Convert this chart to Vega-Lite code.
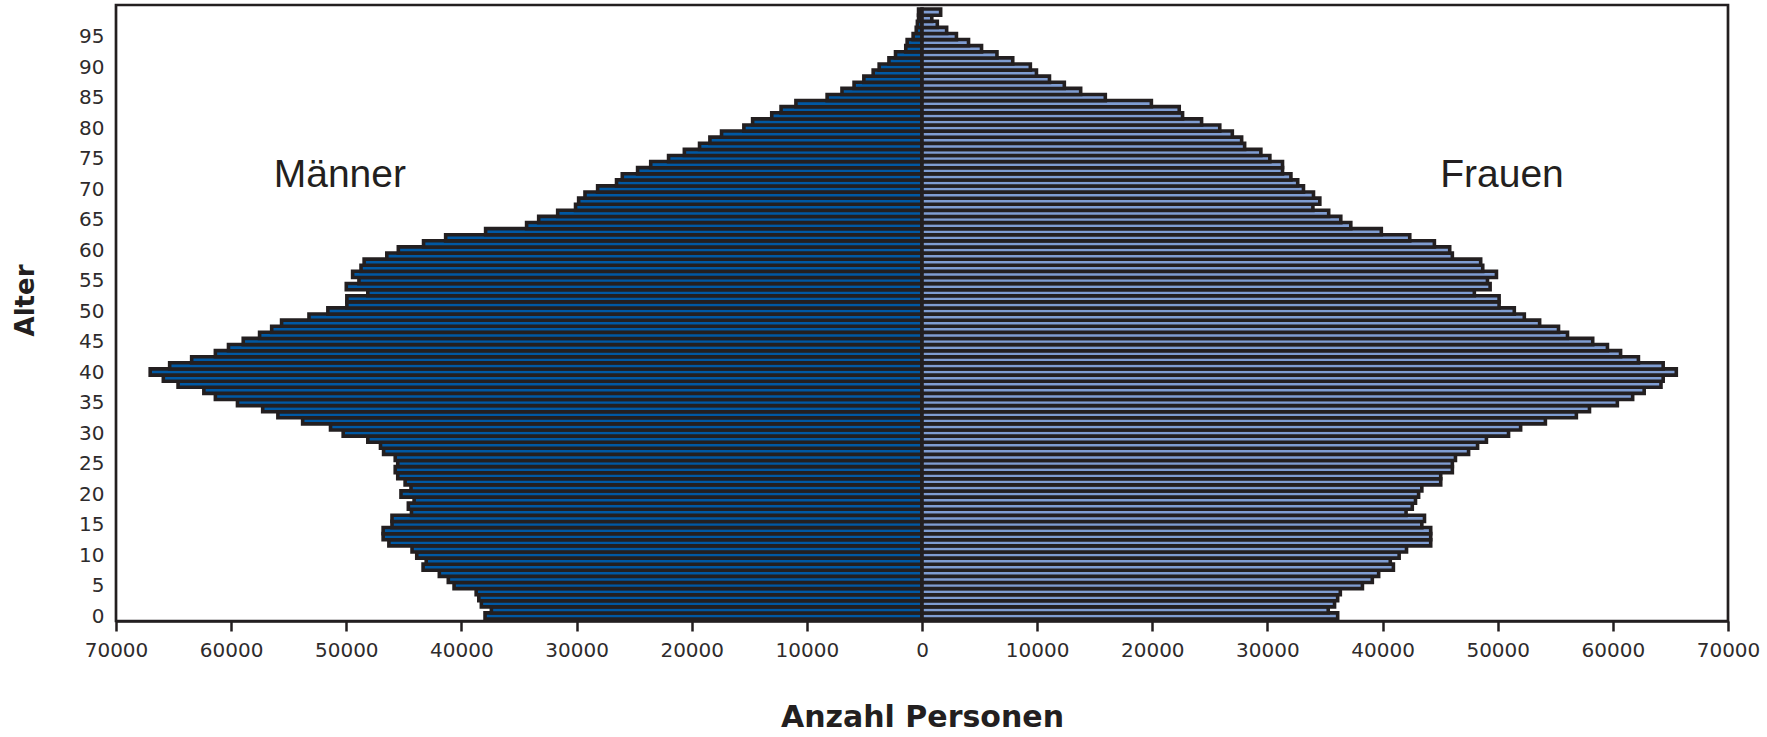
{
  "$schema": "https://vega.github.io/schema/vega-lite/v6.json",
  "description": "Bevölkerungspyramide nach Alter und Geschlecht",
  "autosize": {"type": "none"},
  "padding": {"left": 116, "top": 5, "right": 39, "bottom": 116},
  "width": 1612,
  "height": 616,
  "encoding": {
    "x": {
      "field": "x",
      "type": "quantitative",
      "scale": {"domain": [-70000, 70000], "nice": false},
      "axis": {
        "title": "Anzahl Personen",
        "values": [-70000, -60000, -50000, -40000, -30000, -20000, -10000, 0, 10000, 20000, 30000, 40000, 50000, 60000, 70000],
        "labelExpr": "format(abs(datum.value), 'd')",
        "grid": false,
        "tickSize": 10,
        "tickWidth": 2.5,
        "labelPadding": 9,
        "labelFlush": false,
        "labelOverlap": false,
        "labelBound": false,
        "titleY": 96,
        "titleBaseline": "middle"
      }
    },
    "y": {
      "field": "age",
      "type": "quantitative",
      "scale": {"domain": [0, 99.35], "nice": false},
      "axis": {
        "title": "Alter",
        "values": [0, 5, 10, 15, 20, 25, 30, 35, 40, 45, 50, 55, 60, 65, 70, 75, 80, 85, 90, 95],
        "grid": false,
        "ticks": false,
        "domain": false,
        "labelPadding": 12,
        "titleX": -91,
        "titleY": 295,
        "titleBaseline": "middle",
        "titleFontSize": 26
      }
    }
  },
  "layer": [
    {
      "data": {
        "values": [
          {"age": 0, "Männer": 37950, "Frauen": 36100},
          {"age": 1, "Männer": 37400, "Frauen": 35280},
          {"age": 2, "Männer": 38270, "Frauen": 35830},
          {"age": 3, "Männer": 38490, "Frauen": 36100},
          {"age": 4, "Männer": 38720, "Frauen": 36330},
          {"age": 5, "Männer": 40640, "Frauen": 38250},
          {"age": 6, "Männer": 41140, "Frauen": 39110},
          {"age": 7, "Männer": 41920, "Frauen": 39660},
          {"age": 8, "Männer": 43330, "Frauen": 40940},
          {"age": 9, "Männer": 43060, "Frauen": 40670},
          {"age": 10, "Männer": 43880, "Frauen": 41440},
          {"age": 11, "Männer": 44290, "Frauen": 42080},
          {"age": 12, "Männer": 46300, "Frauen": 44180},
          {"age": 13, "Männer": 46800, "Frauen": 44180},
          {"age": 14, "Männer": 46800, "Frauen": 44180},
          {"age": 15, "Männer": 46030, "Frauen": 43410},
          {"age": 16, "Männer": 46030, "Frauen": 43640},
          {"age": 17, "Männer": 44340, "Frauen": 42040},
          {"age": 18, "Männer": 44610, "Frauen": 42580},
          {"age": 19, "Männer": 44110, "Frauen": 42860},
          {"age": 20, "Männer": 45250, "Frauen": 43130},
          {"age": 21, "Männer": 44380, "Frauen": 43410},
          {"age": 22, "Männer": 44890, "Frauen": 45050},
          {"age": 23, "Männer": 45530, "Frauen": 45050},
          {"age": 24, "Männer": 45750, "Frauen": 46060},
          {"age": 25, "Männer": 45530, "Frauen": 46060},
          {"age": 26, "Männer": 45750, "Frauen": 46330},
          {"age": 27, "Männer": 46760, "Frauen": 47470},
          {"age": 28, "Männer": 47030, "Frauen": 48250},
          {"age": 29, "Männer": 48130, "Frauen": 49020},
          {"age": 30, "Männer": 50270, "Frauen": 50940},
          {"age": 31, "Männer": 51370, "Frauen": 51990},
          {"age": 32, "Männer": 53790, "Frauen": 54140},
          {"age": 33, "Männer": 55940, "Frauen": 56830},
          {"age": 34, "Männer": 57260, "Frauen": 57970},
          {"age": 35, "Männer": 59450, "Frauen": 60390},
          {"age": 36, "Männer": 61370, "Frauen": 61720},
          {"age": 37, "Männer": 62370, "Frauen": 62720},
          {"age": 38, "Männer": 64610, "Frauen": 64180},
          {"age": 39, "Männer": 65890, "Frauen": 64370},
          {"age": 40, "Männer": 67030, "Frauen": 65510},
          {"age": 41, "Männer": 65340, "Frauen": 64370},
          {"age": 42, "Männer": 63430, "Frauen": 62220},
          {"age": 43, "Männer": 61370, "Frauen": 60670},
          {"age": 44, "Männer": 60230, "Frauen": 59530},
          {"age": 45, "Männer": 58950, "Frauen": 58250},
          {"age": 46, "Männer": 57530, "Frauen": 56060},
          {"age": 47, "Männer": 56480, "Frauen": 55280},
          {"age": 48, "Männer": 55620, "Frauen": 53640},
          {"age": 49, "Männer": 53240, "Frauen": 52310},
          {"age": 50, "Männer": 51600, "Frauen": 51440},
          {"age": 51, "Männer": 49950, "Frauen": 50120},
          {"age": 52, "Männer": 49950, "Frauen": 50120},
          {"age": 53, "Männer": 48130, "Frauen": 47970},
          {"age": 54, "Männer": 50000, "Frauen": 49340},
          {"age": 55, "Männer": 48900, "Frauen": 49110},
          {"age": 56, "Männer": 49450, "Frauen": 49890},
          {"age": 57, "Männer": 48720, "Frauen": 48700},
          {"age": 58, "Männer": 48450, "Frauen": 48520},
          {"age": 59, "Männer": 46480, "Frauen": 46060},
          {"age": 60, "Männer": 45480, "Frauen": 45830},
          {"age": 61, "Männer": 43290, "Frauen": 44500},
          {"age": 62, "Männer": 41370, "Frauen": 42360},
          {"age": 63, "Männer": 37900, "Frauen": 39890},
          {"age": 64, "Männer": 34340, "Frauen": 37240},
          {"age": 65, "Männer": 33290, "Frauen": 36370},
          {"age": 66, "Männer": 31640, "Frauen": 35320},
          {"age": 67, "Männer": 30090, "Frauen": 33950},
          {"age": 68, "Männer": 29820, "Frauen": 34550},
          {"age": 69, "Männer": 29270, "Frauen": 34000},
          {"age": 70, "Männer": 28170, "Frauen": 33130},
          {"age": 71, "Männer": 26530, "Frauen": 32630},
          {"age": 72, "Männer": 26030, "Frauen": 32040},
          {"age": 73, "Männer": 24700, "Frauen": 31310},
          {"age": 74, "Männer": 23560, "Frauen": 31310},
          {"age": 75, "Männer": 22010, "Frauen": 30210},
          {"age": 76, "Männer": 20640, "Frauen": 29430},
          {"age": 77, "Männer": 19320, "Frauen": 28020},
          {"age": 78, "Männer": 18420, "Frauen": 27760},
          {"age": 79, "Männer": 17410, "Frauen": 26950},
          {"age": 80, "Männer": 15470, "Frauen": 25860},
          {"age": 81, "Männer": 14710, "Frauen": 24280},
          {"age": 82, "Männer": 13050, "Frauen": 22630},
          {"age": 83, "Männer": 12240, "Frauen": 22340},
          {"age": 84, "Männer": 10950, "Frauen": 19920},
          {"age": 85, "Männer": 8240, "Frauen": 15920},
          {"age": 86, "Männer": 6950, "Frauen": 13780},
          {"age": 87, "Männer": 5900, "Frauen": 12360},
          {"age": 88, "Männer": 5050, "Frauen": 11070},
          {"age": 89, "Männer": 4240, "Frauen": 9940},
          {"age": 90, "Männer": 3720, "Frauen": 9410},
          {"age": 91, "Männer": 2870, "Frauen": 7880},
          {"age": 92, "Männer": 2300, "Frauen": 6510},
          {"age": 93, "Männer": 1410, "Frauen": 5170},
          {"age": 94, "Männer": 1290, "Frauen": 4040},
          {"age": 95, "Männer": 770, "Frauen": 2990},
          {"age": 96, "Männer": 500, "Frauen": 2140},
          {"age": 97, "Männer": 400, "Frauen": 1330},
          {"age": 98, "Männer": 300, "Frauen": 850},
          {"age": 99, "Männer": 300, "Frauen": 1620}
        ]
      },
      "transform": [
        {"fold": ["Männer", "Frauen"], "as": ["sex", "n"]},
        {"calculate": "datum.sex === 'Männer' ? -datum.n : datum.n", "as": "x"}
      ],
      "mark": {
        "type": "bar",
        "orient": "horizontal",
        "size": 6.2,
        "stroke": "#231f20",
        "strokeWidth": 3.6
      },
      "encoding": {
        "color": {
          "field": "sex",
          "type": "nominal",
          "scale": {"domain": ["Männer", "Frauen"], "range": ["#0058a3", "#7f9dd2"]},
          "legend": null
        }
      }
    },
    {
      "data": {
        "values": [
          {"label": "Männer", "x": -50560, "age": 72.3},
          {"label": "Frauen", "x": 50370, "age": 72.3}
        ]
      },
      "mark": {
        "type": "text",
        "font": "Liberation Sans",
        "fontSize": 39,
        "color": "#231f20",
        "align": "center",
        "baseline": "middle"
      },
      "encoding": {
        "text": {"field": "label"}
      }
    }
  ],
  "config": {
    "view": {"stroke": "#231f20", "strokeWidth": 2.7},
    "axis": {
      "labelFont": "DejaVu Sans",
      "labelFontSize": 20,
      "labelColor": "#2e2b2c",
      "titleFont": "DejaVu Sans",
      "titleFontSize": 30,
      "titleFontWeight": "bold",
      "titleColor": "#231f20",
      "domainColor": "#231f20",
      "domainWidth": 2.7,
      "tickColor": "#231f20"
    }
  }
}
